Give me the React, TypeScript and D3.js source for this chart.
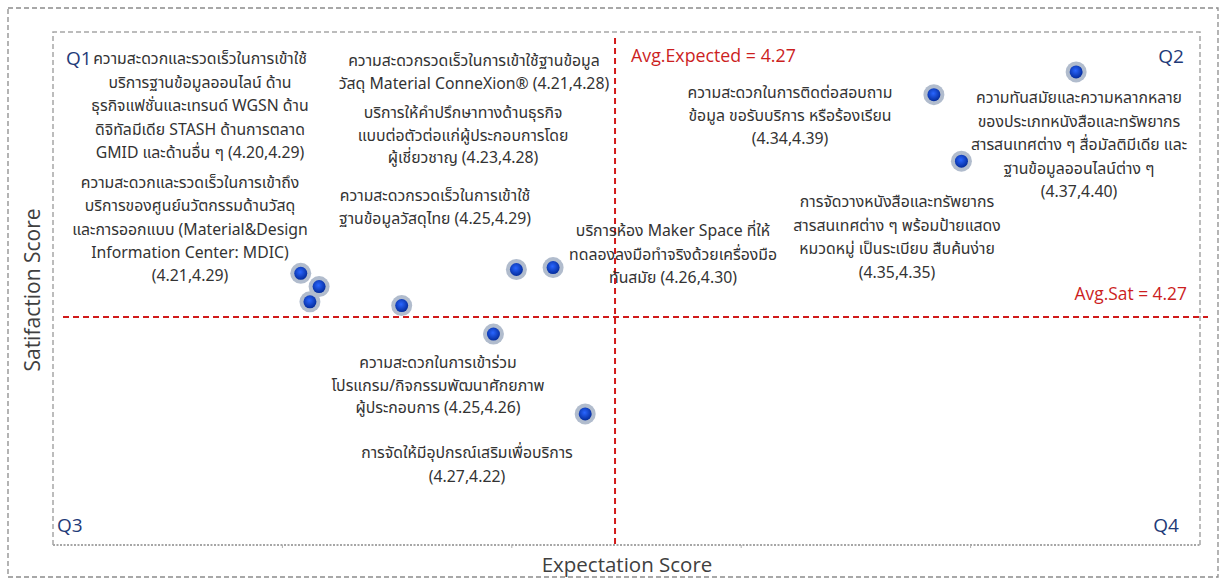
import { useEffect, useRef } from 'react';
import * as d3 from 'd3';

// expectation (x) and satisfaction (y) per service
const expectation = [4.373, 4.342, 4.348, 4.204, 4.208, 4.206, 4.226, 4.251, 4.259, 4.246, 4.266];
const satisfaction = [4.399, 4.387, 4.352, 4.293, 4.286, 4.278, 4.276, 4.295, 4.296, 4.261, 4.219];

const avgExpected = 4.2725;
const avgSat = 4.27;

const labels = [
  ['ความทันสมัยและความหลากหลาย', 'ของประเภทหนังสือและทรัพยากร', 'สารสนเทศต่าง ๆ สื่อมัลติมีเดีย และ', 'ฐานข้อมูลออนไลน์ต่าง ๆ', '(4.37,4.40)'],
  ['ความสะดวกในการติดต่อสอบถาม', 'ข้อมูล ขอรับบริการ หรือร้องเรียน', '(4.34,4.39)'],
  ['การจัดวางหนังสือและทรัพยากร', 'สารสนเทศต่าง ๆ พร้อมป้ายแสดง', 'หมวดหมู่ เป็นระเบียบ สืบค้นง่าย', '(4.35,4.35)'],
  ['ความสะดวกและรวดเร็วในการเข้าใช้', 'บริการฐานข้อมูลออนไลน์ ด้าน', 'ธุรกิจแฟชั่นและเทรนด์  WGSN ด้าน', 'ดิจิทัลมีเดีย STASH ด้านการตลาด', 'GMID และด้านอื่น ๆ (4.20,4.29)'],
  ['ความสะดวกและรวดเร็วในการเข้าถึง', 'บริการของศูนย์นวัตกรรมด้านวัสดุ', 'และการออกแบบ  (Material&Design', 'Information Center: MDIC)', '(4.21,4.29)'],
  ['ความสะดวกรวดเร็วในการเข้าใช้ฐานข้อมูล', 'วัสดุ Material ConneXion® (4.21,4.28)'],
  ['บริการให้คำปรึกษาทางด้านธุรกิจ', 'แบบต่อตัวต่อแก่ผู้ประกอบการโดย', 'ผู้เชี่ยวชาญ (4.23,4.28)'],
  ['ความสะดวกรวดเร็วในการเข้าใช้', 'ฐานข้อมูลวัสดุไทย (4.25,4.29)'],
  ['บริการห้อง  Maker Space ที่ให้', 'ทดลองลงมือทำจริงด้วยเครื่องมือ', 'ทันสมัย  (4.26,4.30)'],
  ['ความสะดวกในการเข้าร่วม', 'โปรแกรม/กิจกรรมพัฒนาศักยภาพ', 'ผู้ประกอบการ (4.25,4.26)'],
  ['การจัดให้มีอุปกรณ์เสริมเพื่อบริการ', '(4.27,4.22)'],
];

// where each text box sits (centre x, first baseline y, line gap)
const labelBoxes = [
  [1079, 103, 23.5],
  [790, 98, 23],
  [897, 207, 23.5],
  [200, 64, 23.5],
  [190, 188, 23.3],
  [474, 66, 23],
  [463, 118, 22.5],
  [435, 201, 23],
  [673, 236, 23.5],
  [438, 368, 22.5],
  [467, 458, 24],
];

const xTicks = [4.2, 4.25, 4.3, 4.35];

const App = () => {
  const svgRef = useRef(null);

  useEffect(() => {
    const svg = d3.select(svgRef.current);
    svg.selectAll('*').remove();

    const plot = { left: 53, top: 32, right: 1200, bottom: 545 };
    const x = d3.scaleLinear().domain([4.15, 4.4]).range([plot.left, plot.right]);
    const y = d3.scaleLinear().domain([4.15, 4.42]).range([plot.bottom, plot.top]);

    const defs = svg.append('defs');
    const grad = defs.append('radialGradient').attr('id', 'dot').attr('cx', '45%').attr('cy', '40%').attr('r', '60%');
    grad.append('stop').attr('offset', '0%').attr('stop-color', '#2a66ff');
    grad.append('stop').attr('offset', '100%').attr('stop-color', '#042c9c');

    // outer frame
    svg.append('rect')
      .attr('x', 8).attr('y', 8).attr('width', 1210).attr('height', 569)
      .attr('fill', 'none').attr('stroke', '#8c8c8c').attr('stroke-width', 1.3).attr('stroke-dasharray', '5,3');

    // plot area frame (left, top, right dashed)
    svg.append('path')
      .attr('d', `M${plot.left},${plot.bottom}V${plot.top}H${plot.right}V${plot.bottom}`)
      .attr('fill', 'none').attr('stroke', '#a6a6a6').attr('stroke-width', 1.5).attr('stroke-dasharray', '5,3');

    // bottom axis (dotted)
    svg.append('line')
      .attr('x1', plot.left).attr('x2', plot.right).attr('y1', plot.bottom).attr('y2', plot.bottom)
      .attr('stroke', '#a6a6a6').attr('stroke-width', 2).attr('stroke-dasharray', '2,1.5');
    svg.append('g').selectAll('line').data(xTicks).enter().append('line')
      .attr('x1', (d) => x(d)).attr('x2', (d) => x(d))
      .attr('y1', plot.bottom).attr('y2', plot.bottom + 3)
      .attr('stroke', '#b0b0b0').attr('stroke-width', 1);

    // average lines
    svg.append('line')
      .attr('x1', x(avgExpected)).attr('x2', x(avgExpected)).attr('y1', 38).attr('y2', plot.bottom)
      .attr('stroke', '#d11a1a').attr('stroke-width', 2).attr('stroke-dasharray', '6,4');
    svg.append('line')
      .attr('x1', 63).attr('x2', 1208).attr('y1', y(avgSat)).attr('y2', y(avgSat))
      .attr('stroke', '#d11a1a').attr('stroke-width', 2).attr('stroke-dasharray', '6,4');

    svg.append('text')
      .attr('x', x(avgExpected) + 16).attr('y', 62)
      .attr('fill', '#cc1f1f').attr('font-size', 17.8).attr('font-family', 'Open Sans, Noto Sans, sans-serif')
      .text('Avg.Expected = 4.27');
    svg.append('text')
      .attr('x', 1187).attr('y', y(avgSat) - 17).attr('text-anchor', 'end')
      .attr('fill', '#cc1f1f').attr('font-size', 17.4).attr('font-family', 'Open Sans, Noto Sans, sans-serif')
      .text('Avg.Sat = 4.27');

    // quadrant names
    const quads = [
      ['Q1', 66, 65, 'start'],
      ['Q2', 1184, 63, 'end'],
      ['Q3', 57, 532, 'start'],
      ['Q4', 1179, 532, 'end'],
    ];
    svg.append('g').selectAll('text').data(quads).enter().append('text')
      .attr('x', (d) => d[1]).attr('y', (d) => d[2]).attr('text-anchor', (d) => d[3])
      .attr('fill', '#1f3a78').attr('font-size', 19).attr('font-family', 'Open Sans, Noto Sans, sans-serif')
      .text((d) => d[0]);

    // text boxes
    const lbl = svg.append('g')
      .attr('font-family', 'Noto Sans Thai, Tahoma, Noto Sans, sans-serif')
      .attr('font-size', 15.8).attr('fill', '#333').attr('text-anchor', 'middle');
    labels.forEach((lines, i) => {
      const [cx, by, gap] = labelBoxes[i];
      const t = lbl.append('text');
      lines.forEach((s, j) => {
        t.append('tspan').attr('x', cx).attr('y', by + j * gap).text(s);
      });
    });

    // points
    const pts = d3.range(expectation.length);
    const g = svg.append('g');
    g.selectAll('.halo').data(pts).enter().append('circle')
      .attr('class', 'halo')
      .attr('cx', (i) => x(expectation[i])).attr('cy', (i) => y(satisfaction[i]))
      .attr('r', 10.5).attr('fill', '#b1bccd');
    g.selectAll('.dot').data(pts).enter().append('circle')
      .attr('class', 'dot')
      .attr('cx', (i) => x(expectation[i])).attr('cy', (i) => y(satisfaction[i]))
      .attr('r', 6.5).attr('fill', 'url(#dot)');

    // axis titles
    svg.append('text')
      .attr('x', 627).attr('y', 572).attr('text-anchor', 'middle')
      .attr('fill', '#404040').attr('font-size', 20.5).attr('font-family', 'Open Sans, Noto Sans, sans-serif')
      .text('Expectation Score');
    svg.append('text')
      .attr('transform', 'translate(40,290) rotate(-90)').attr('text-anchor', 'middle')
      .attr('fill', '#404040').attr('font-size', 21).attr('font-family', 'Open Sans, Noto Sans, sans-serif')
      .text('Satifaction Score');
  }, []);

  return (
    <svg
      ref={svgRef}
      width={1219}
      height={580}
      style={{ position: 'absolute', left: 0, top: 0, background: '#fff' }}
    ></svg>
  );
};

export default App;
